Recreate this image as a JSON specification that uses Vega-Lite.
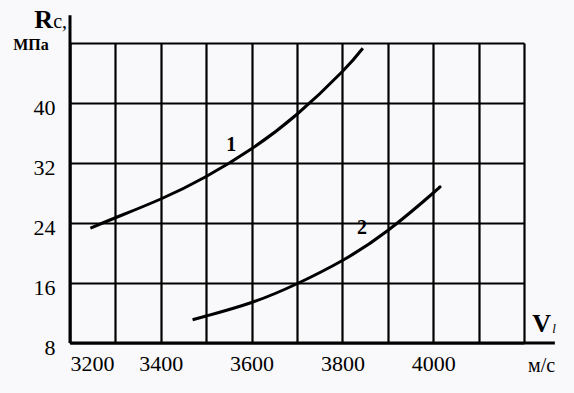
{
  "$schema": "https://vega.github.io/schema/vega-lite/v6.json",
  "autosize": "none",
  "width": 454,
  "height": 300,
  "padding": {"left": 70, "top": 43, "right": 50, "bottom": 50},
  "background": "#f9f8fa",
  "config": {"view": {"stroke": null}, "font": "Liberation Serif"},
  "layer": [
    {
      "data": {"values": [
        {"series": "1", "v": 3245, "r": 23.3},
        {"series": "1", "v": 3300, "r": 24.7},
        {"series": "1", "v": 3400, "r": 27.2},
        {"series": "1", "v": 3500, "r": 30.2},
        {"series": "1", "v": 3600, "r": 33.9},
        {"series": "1", "v": 3700, "r": 38.5},
        {"series": "1", "v": 3800, "r": 44.2},
        {"series": "1", "v": 3845, "r": 47.3},
        {"series": "2", "v": 3470, "r": 11.1},
        {"series": "2", "v": 3500, "r": 11.6},
        {"series": "2", "v": 3600, "r": 13.4},
        {"series": "2", "v": 3700, "r": 15.9},
        {"series": "2", "v": 3800, "r": 19.0},
        {"series": "2", "v": 3900, "r": 23.0},
        {"series": "2", "v": 4000, "r": 28.0},
        {"series": "2", "v": 4012, "r": 28.7}
      ]},
      "mark": {"type": "line", "color": "black", "strokeWidth": 3, "interpolate": "natural"},
      "encoding": {
        "x": {"field": "v", "type": "quantitative",
          "scale": {"domain": [3200, 4200], "nice": false, "zero": false},
          "axis": {"title": null, "values": [3200, 3300, 3400, 3500, 3600, 3700, 3800, 3900, 4000, 4100, 4200],
            "format": "d",
            "labelExpr": "indexof([3200,3400,3600,3800,4000], datum.value) >= 0 ? datum.label : ''",
            "grid": true, "gridColor": "black", "gridWidth": 2.2, "gridOpacity": 1,
            "ticks": false, "domain": false, "labelPadding": 10,
            "labelFont": "Liberation Serif", "labelFontSize": 22, "labelColor": "black"}},
        "y": {"field": "r", "type": "quantitative",
          "scale": {"domain": [8, 48], "nice": false, "zero": false},
          "axis": {"title": null, "values": [8, 12, 16, 20, 24, 28, 32, 36, 40, 44, 48],
            "labelExpr": "(datum.value % 8 == 0 && datum.value < 48) ? datum.label : ''",
            "grid": true, "gridColor": "black", "gridWidth": 2.2, "gridOpacity": 1,
            "ticks": false, "domain": false, "labelPadding": 15, "labelOffset": 4,
            "labelFont": "Liberation Serif", "labelFontSize": 22, "labelColor": "black"}},
        "detail": {"field": "series"}
      }
    },
    {
      "data": {"values": [
        {"v": 3200, "r": 8, "v2": 4268, "r2": 8},
        {"v": 3200, "r": 8, "v2": 3200, "r2": 51.7}
      ]},
      "mark": {"type": "rule", "color": "black", "strokeWidth": 3},
      "encoding": {
        "x": {"field": "v", "type": "quantitative"},
        "y": {"field": "r", "type": "quantitative"},
        "x2": {"field": "v2"},
        "y2": {"field": "r2"}
      }
    },
    {
      "data": {"values": [
        {"t": "R", "v": 3121, "r": 50.0},
        {"t": "V", "v": 4218, "r": 9.47}
      ]},
      "mark": {"type": "text", "fontSize": 26, "fontWeight": "bold", "align": "left", "baseline": "alphabetic", "color": "black", "font": "Liberation Serif"},
      "encoding": {
        "x": {"field": "v", "type": "quantitative"},
        "y": {"field": "r", "type": "quantitative"},
        "text": {"field": "t"}
      }
    },
    {
      "data": {"values": [
        {"t": "c,", "v": 3163, "r": 50.0},
        {"t": "м/с", "v": 4209, "r": 4.13}
      ]},
      "mark": {"type": "text", "fontSize": 20, "align": "left", "baseline": "alphabetic", "color": "black", "font": "Liberation Serif"},
      "encoding": {
        "x": {"field": "v", "type": "quantitative"},
        "y": {"field": "r", "type": "quantitative"},
        "text": {"field": "t"}
      }
    },
    {
      "data": {"values": [
        {"t": "МПа", "v": 3075, "r": 47.07}
      ]},
      "mark": {"type": "text", "fontSize": 16, "fontWeight": "bold", "align": "left", "baseline": "alphabetic", "color": "black", "font": "Liberation Serif"},
      "encoding": {
        "x": {"field": "v", "type": "quantitative"},
        "y": {"field": "r", "type": "quantitative"},
        "text": {"field": "t"}
      }
    },
    {
      "data": {"values": [
        {"t": "l", "v": 4262, "r": 9.33}
      ]},
      "mark": {"type": "text", "fontSize": 13, "fontStyle": "italic", "align": "left", "baseline": "alphabetic", "color": "black", "font": "Liberation Serif"},
      "encoding": {
        "x": {"field": "v", "type": "quantitative"},
        "y": {"field": "r", "type": "quantitative"},
        "text": {"field": "t"}
      }
    },
    {
      "data": {"values": [
        {"t": "1", "v": 3555, "r": 34.4},
        {"t": "2", "v": 3843, "r": 23.33}
      ]},
      "mark": {"type": "text", "fontSize": 20, "fontWeight": "bold", "align": "center", "baseline": "middle", "color": "black", "font": "Liberation Serif"},
      "encoding": {
        "x": {"field": "v", "type": "quantitative"},
        "y": {"field": "r", "type": "quantitative"},
        "text": {"field": "t"}
      }
    }
  ]
}
